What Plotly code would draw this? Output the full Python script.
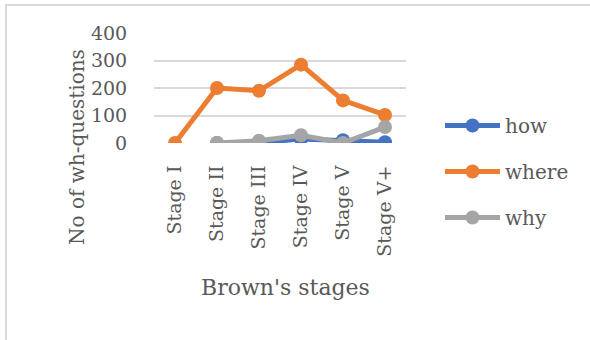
import plotly.graph_objects as go

# Wh-question counts across Brown's stages
stages = ["Stage I", "Stage II", "Stage III", "Stage IV", "Stage V", "Stage V+"]
how = [None, 0, 0, 15, 10, 3]
where = [0, 200, 190, 285, 155, 102]
why = [None, 0, 8, 28, 0, 58]

W, H = 590, 340
L, R, T, B = 154, 184, 33, 197
PW, PH = W - L - R, H - T - B


def px_x(x):
    return (x - L) / PW


def px_y(y):
    return (H - B - y) / PH


FONT = "DejaVu Serif"
GREY = "#595959"

fig = go.Figure()
series = [("how", how, "#4472C4"), ("where", where, "#ED7D31"), ("why", why, "#A5A5A5")]
for name, vals, col in series:
    fig.add_trace(go.Scatter(
        x=stages, y=vals, name=name, mode="lines+markers",
        line=dict(color=col, width=5),
        marker=dict(color=col, size=14),
        legendgroup=name,
    ))

fig.update_layout(
    width=W, height=H,
    margin=dict(l=L, r=R, t=T, b=B),
    paper_bgcolor="white", plot_bgcolor="white",
    font=dict(family=FONT, color=GREY, size=19),
    showlegend=True,
    legend=dict(
        x=px_x(440), y=px_y(106), xanchor="left", yanchor="top",
        font=dict(size=20, color=GREY),
        itemwidth=55, tracegroupgap=17, maxheight=300,
        bgcolor="rgba(0,0,0,0)",
    ),
    xaxis=dict(
        type="category", range=[-0.5, 5.5],
        showgrid=False, zeroline=False, showline=False,
        tickangle=-90, ticks="outside", ticklen=14, tickcolor="rgba(0,0,0,0)",
        tickfont=dict(size=19, color=GREY),
    ),
    yaxis=dict(
        range=[0, 400], dtick=100, showgrid=True, gridcolor="#D9D9D9", gridwidth=2,
        zeroline=False, showline=False,
        ticks="outside", ticklen=22, tickcolor="rgba(0,0,0,0)",
        tickfont=dict(size=19, color=GREY),
    ),
    annotations=[
        dict(text="No of wh-questions", textangle=-90, showarrow=False,
             xref="paper", yref="paper", x=px_x(77), y=px_y(147),
             xanchor="center", yanchor="middle", font=dict(size=20, color=GREY)),
        dict(text="Brown's stages", showarrow=False,
             xref="paper", yref="paper", x=px_x(285), y=px_y(287),
             xanchor="center", yanchor="middle", font=dict(size=22, color=GREY)),
    ],
    shapes=[
        dict(type="rect", xref="paper", yref="paper",
             x0=px_x(6), x1=px_x(W + 20), y0=px_y(H + 20), y1=px_y(5),
             line=dict(color="#D9D9D9", width=2), fillcolor="rgba(0,0,0,0)", layer="below"),
    ],
)

fig.write_html("out.html")
